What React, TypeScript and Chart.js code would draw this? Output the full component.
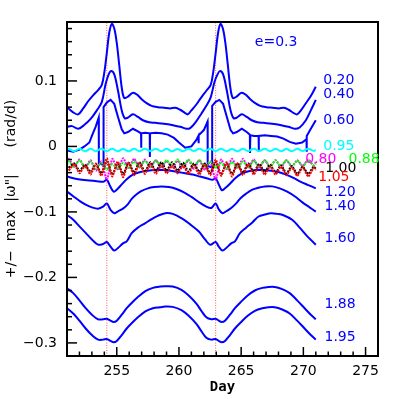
import React, { useEffect, useRef } from "react";
import { Chart, registerables } from "chart.js";

Chart.register(...registerables);

type P = [number, number];

// axis ranges and tick labels
const xMin = 251;
const xMax = 276;
const yMin = -0.32;
const yMax = 0.19;
const xTickValues = [255, 260, 265, 270, 275];
const yTickValues = [-0.3, -0.2, -0.1, 0, 0.1];
const xTitle = "Day";
const yTitle = "+/\u2212  max  |\u03c9\"|      (rad/d)";
const eccText = "e=0.3";

// dotted red vertical markers (days)
const markerDays = [254.2, 262.95];

// ----- blue curves: [day, value] -----
const c020: P[] = [
  [251.0, 0.060], [251.5, 0.052], [251.9, 0.049], [252.3, 0.058], [252.7, 0.069], [253.1, 0.078],
  [253.5, 0.086], [253.8, 0.094], [254.0, 0.113], [254.2, 0.143], [254.4, 0.174], [254.6, 0.187],
  [254.8, 0.180], [255.0, 0.158], [255.2, 0.124], [255.4, 0.090], [255.6, 0.074], [255.9, 0.076],
  [256.3, 0.082], [256.7, 0.078], [257.0, 0.072], [257.4, 0.066], [257.8, 0.062], [258.3, 0.060],
  [258.8, 0.059], [259.3, 0.058], [259.7, 0.059], [260.1, 0.056], [260.5, 0.051], [260.7, 0.049],
  [261.0, 0.055], [261.4, 0.064], [261.8, 0.075], [262.2, 0.085], [262.55, 0.094], [262.75, 0.113],
  [262.95, 0.143], [263.15, 0.174], [263.33, 0.187], [263.53, 0.180], [263.73, 0.158], [263.93, 0.124],
  [264.13, 0.090], [264.33, 0.074], [264.63, 0.076], [265.03, 0.082], [265.43, 0.078], [265.73, 0.072],
  [266.13, 0.066], [266.53, 0.062], [267.03, 0.060], [267.53, 0.059], [268.03, 0.058], [268.43, 0.059],
  [268.83, 0.056], [269.23, 0.051], [269.5, 0.049], [269.8, 0.055], [270.2, 0.066], [270.6, 0.077],
  [271.0, 0.091],
];

const c040: P[] = [
  [251.0, 0.030], [251.4, 0.031], [251.9, 0.027], [252.4, 0.033], [252.9, 0.042], [253.4, 0.055],
  [253.8, 0.068], [254.1, 0.095], [254.35, 0.110], [254.55, 0.115], [254.8, 0.110], [255.1, 0.085],
  [255.4, 0.055], [255.65, 0.043], [255.9, 0.044], [256.3, 0.049], [256.7, 0.045], [257.1, 0.040],
  [257.6, 0.037], [258.1, 0.036], [258.6, 0.035], [259.1, 0.034], [259.6, 0.032], [260.1, 0.030],
  [260.6, 0.027], [260.9, 0.028], [261.3, 0.036], [261.8, 0.050], [262.2, 0.062], [262.55, 0.075],
  [262.85, 0.098], [263.1, 0.110], [263.3, 0.115], [263.55, 0.110], [263.85, 0.085], [264.15, 0.055],
  [264.4, 0.043], [264.65, 0.044], [265.05, 0.049], [265.45, 0.045], [265.85, 0.040], [266.3, 0.037],
  [266.8, 0.036], [267.3, 0.035], [267.8, 0.034], [268.3, 0.032], [268.8, 0.030], [269.3, 0.027],
  [269.7, 0.029], [270.2, 0.040], [270.6, 0.055], [271.0, 0.071],
];

const c060: P[] = [
  [251.0, -0.006], [251.5, -0.008], [252.0, -0.005], [252.4, 0.000], [252.8, 0.006], [253.0, 0.016],
  [253.3, 0.030], [253.55, 0.044], [253.56, -0.026], [253.93, -0.028], [253.94, 0.060], [254.2, 0.067],
  [254.5, 0.071], [254.8, 0.065], [255.1, 0.045], [255.4, 0.026], [255.6, 0.020], [255.9, 0.022],
  [256.3, 0.027], [256.7, 0.023], [256.95, 0.020], [256.96, -0.002], [256.98, 0.020], [257.3, 0.021],
  [257.65, 0.020], [257.66, -0.016], [257.68, 0.020], [258.1, 0.021], [258.6, 0.020], [259.1, 0.018],
  [259.6, 0.013], [260.0, 0.006], [260.5, -0.002], [261.0, 0.000], [261.4, 0.010], [261.56, 0.016],
  [261.57, 0.005], [261.6, 0.017], [262.0, 0.025], [262.3, 0.038], [262.31, -0.030], [262.66, -0.032],
  [262.67, 0.062], [262.95, 0.068], [263.25, 0.071], [263.55, 0.065], [263.85, 0.045], [264.15, 0.025],
  [264.35, 0.020], [264.65, 0.022], [265.05, 0.027], [265.45, 0.022], [265.7, 0.018], [265.71, -0.010],
  [265.74, 0.017], [266.05, 0.016], [266.4, 0.016], [266.41, -0.008], [266.43, 0.016], [266.9, 0.017],
  [267.4, 0.016], [267.9, 0.015], [268.4, 0.012], [268.9, 0.007], [269.4, 0.004], [269.9, 0.006],
  [270.25, 0.011], [270.26, -0.008], [270.28, 0.016], [270.6, 0.027], [271.0, 0.040],
];

const c120: P[] = [
  [251.0, -0.046], [251.6, -0.049], [252.2, -0.051], [252.8, -0.052], [253.4, -0.053], [253.9, -0.054],
  [254.2, -0.051], [254.45, -0.060], [254.75, -0.069], [255.0, -0.066], [255.4, -0.058], [255.8, -0.050],
  [256.3, -0.043], [256.9, -0.039], [257.5, -0.037], [258.1, -0.036], [258.7, -0.036], [259.3, -0.037],
  [259.9, -0.039], [260.5, -0.041], [261.1, -0.043], [261.7, -0.046], [262.3, -0.049], [262.7, -0.051],
  [262.95, -0.049], [263.2, -0.058], [263.45, -0.067], [263.7, -0.064], [264.1, -0.057], [264.5, -0.049],
  [265.0, -0.042], [265.6, -0.038], [266.2, -0.036], [266.8, -0.036], [267.4, -0.037], [268.0, -0.039],
  [268.6, -0.043], [269.2, -0.048], [269.8, -0.054], [270.4, -0.059], [271.0, -0.064],
];

const c140: P[] = [
  [251.0, -0.069], [251.5, -0.076], [252.0, -0.083], [252.5, -0.089], [253.0, -0.093], [253.5, -0.095],
  [253.9, -0.092], [254.2, -0.087], [254.5, -0.097], [254.8, -0.102], [255.1, -0.099], [255.5, -0.095],
  [255.9, -0.088], [256.2, -0.080], [256.6, -0.073], [257.0, -0.068], [257.5, -0.064], [258.0, -0.062],
  [258.6, -0.061], [259.2, -0.062], [259.8, -0.065], [260.4, -0.070], [261.0, -0.077], [261.6, -0.085],
  [262.2, -0.092], [262.6, -0.094], [262.95, -0.087], [263.2, -0.096], [263.5, -0.102], [263.8, -0.099],
  [264.2, -0.094], [264.6, -0.087], [264.95, -0.079], [265.4, -0.072], [265.9, -0.066], [266.4, -0.063],
  [266.9, -0.061], [267.5, -0.061], [268.1, -0.064], [268.7, -0.069], [269.3, -0.076], [269.9, -0.085],
  [270.5, -0.093], [271.0, -0.0995],
];

const c160: P[] = [
  [251.0, -0.1046], [251.5, -0.112], [252.0, -0.122], [252.5, -0.132], [253.0, -0.142], [253.5, -0.150],
  [253.9, -0.149], [254.2, -0.146], [254.5, -0.153], [254.8, -0.159], [255.1, -0.155], [255.5, -0.148],
  [255.8, -0.145], [256.2, -0.1325], [256.7, -0.124], [257.3, -0.117], [257.8, -0.111], [258.3, -0.106],
  [258.9, -0.102], [259.5, -0.103], [260.2, -0.1096], [260.9, -0.119], [261.6, -0.130], [262.1, -0.142],
  [262.5, -0.150], [262.95, -0.146], [263.2, -0.153], [263.5, -0.159], [263.8, -0.155], [264.2, -0.148],
  [264.5, -0.145], [264.9, -0.1325], [265.4, -0.124], [265.9, -0.116], [266.4, -0.107], [266.9, -0.104],
  [267.4, -0.102], [267.9, -0.103], [268.4, -0.105], [269.1, -0.112], [269.7, -0.124], [270.3, -0.137],
  [271.0, -0.150],
];

const c188: P[] = [
  [251.0, -0.2165], [251.5, -0.224], [252.0, -0.235], [252.5, -0.247], [253.0, -0.257], [253.5, -0.264],
  [253.9, -0.264], [254.2, -0.263], [254.5, -0.266], [254.75, -0.268], [255.0, -0.266], [255.4, -0.257],
  [255.8, -0.247], [256.2, -0.239], [256.7, -0.230], [257.3, -0.221], [257.9, -0.216], [258.5, -0.214],
  [258.9, -0.2135], [259.5, -0.214], [260.2, -0.219], [260.8, -0.228], [261.4, -0.240], [261.8, -0.251],
  [262.2, -0.261], [262.6, -0.264], [262.95, -0.263], [263.2, -0.266], [263.45, -0.268], [263.7, -0.266],
  [264.1, -0.257], [264.5, -0.247], [264.9, -0.239], [265.5, -0.228], [266.1, -0.220], [266.7, -0.216],
  [267.2, -0.2145], [267.7, -0.2145], [268.3, -0.218], [268.9, -0.224], [269.5, -0.235], [270.1, -0.247],
  [270.6, -0.257], [271.0, -0.264],
];

const c195: P[] = [
  [251.0, -0.247], [251.5, -0.255], [252.0, -0.266], [252.5, -0.278], [253.0, -0.288], [253.5, -0.295],
  [253.9, -0.295], [254.2, -0.294], [254.5, -0.297], [254.75, -0.299], [255.0, -0.297], [255.4, -0.288],
  [255.8, -0.278], [256.2, -0.270], [256.7, -0.261], [257.3, -0.252], [257.9, -0.247], [258.5, -0.2455],
  [258.9, -0.2445], [259.5, -0.245], [260.2, -0.250], [260.8, -0.259], [261.4, -0.271], [261.8, -0.282],
  [262.2, -0.292], [262.6, -0.295], [262.95, -0.294], [263.2, -0.297], [263.45, -0.299], [263.7, -0.297],
  [264.1, -0.288], [264.5, -0.278], [264.9, -0.270], [265.5, -0.259], [266.1, -0.251], [266.7, -0.247],
  [267.2, -0.2455], [267.7, -0.2455], [268.3, -0.249], [268.9, -0.255], [269.5, -0.266], [270.1, -0.278],
  [270.6, -0.288], [271.0, -0.295],
];

// ----- oscillating curves share one day grid -----
const oscDays = [
  251.0, 251.14, 251.575, 252.01, 252.45, 252.89, 253.325, 253.76, 254.2, 254.64, 255.075, 255.51,
  255.95, 256.39, 256.825, 257.26, 257.7, 258.14, 258.575, 259.01, 259.45, 259.89, 260.325, 260.76,
  261.2, 261.64, 262.075, 262.51, 262.95, 263.39, 263.825, 264.26, 264.7, 265.14, 265.575, 266.01,
  266.45, 266.89, 267.325, 267.76, 268.2, 268.64, 269.075, 269.51, 269.95, 270.39, 270.825, 271.0,
];

const cyan095 = [
  -0.0055, -0.0040, -0.0072, -0.0036, -0.0074, -0.0037, -0.0072, -0.0034, -0.0070, -0.0036, -0.0073, -0.0038,
  -0.0075, -0.0037, -0.0072, -0.0035, -0.0071, -0.0036, -0.0072, -0.0037, -0.0074, -0.0038, -0.0074, -0.0036,
  -0.0071, -0.0034, -0.0069, -0.0034, -0.0070, -0.0036, -0.0073, -0.0038, -0.0075, -0.0037, -0.0072, -0.0035,
  -0.0071, -0.0036, -0.0072, -0.0037, -0.0073, -0.0038, -0.0073, -0.0036, -0.0071, -0.0035, -0.0068, -0.0055,
];

const mag080 = [
  -0.024, -0.019, -0.031, -0.020, -0.033, -0.021, -0.037, -0.023, -0.051, -0.019, -0.035, -0.018,
  -0.033, -0.019, -0.032, -0.020, -0.032, -0.021, -0.033, -0.022, -0.033, -0.022, -0.033, -0.021,
  -0.034, -0.021, -0.036, -0.023, -0.051, -0.020, -0.035, -0.019, -0.033, -0.019, -0.032, -0.020,
  -0.032, -0.021, -0.032, -0.021, -0.032, -0.021, -0.031, -0.021, -0.030, -0.020, -0.029, -0.024,
];

const grn088 = [
  -0.028, -0.023, -0.031, -0.021, -0.032, -0.023, -0.034, -0.025, -0.035, -0.027, -0.034, -0.025,
  -0.033, -0.023, -0.032, -0.022, -0.031, -0.021, -0.031, -0.021, -0.030, -0.020, -0.030, -0.020,
  -0.030, -0.021, -0.031, -0.023, -0.033, -0.025, -0.034, -0.024, -0.033, -0.023, -0.032, -0.022,
  -0.031, -0.021, -0.031, -0.021, -0.030, -0.021, -0.030, -0.022, -0.030, -0.022, -0.029, -0.026,
];

const blk100 = [
  -0.030, -0.033, -0.026, -0.037, -0.028, -0.039, -0.027, -0.041, -0.023, -0.043, -0.026, -0.042,
  -0.025, -0.040, -0.024, -0.039, -0.024, -0.038, -0.024, -0.037, -0.024, -0.037, -0.025, -0.038,
  -0.026, -0.039, -0.026, -0.041, -0.024, -0.043, -0.026, -0.042, -0.026, -0.040, -0.026, -0.039,
  -0.027, -0.039, -0.028, -0.040, -0.029, -0.041, -0.030, -0.042, -0.031, -0.042, -0.031, -0.034,
];

const red105 = [
  -0.034, -0.037, -0.027, -0.041, -0.029, -0.043, -0.026, -0.045, -0.018, -0.046, -0.023, -0.047,
  -0.025, -0.044, -0.026, -0.042, -0.027, -0.042, -0.028, -0.041, -0.029, -0.041, -0.029, -0.042,
  -0.029, -0.043, -0.027, -0.044, -0.020, -0.045, -0.024, -0.046, -0.026, -0.044, -0.027, -0.043,
  -0.029, -0.043, -0.030, -0.043, -0.031, -0.044, -0.032, -0.045, -0.032, -0.046, -0.033, -0.036,
];

// ----- curve labels -----
const labelTexts = ["0.20", "0.40", "0.60", "0.95", "0.80", "0.88", "1.00", "1.05", "1.20", "1.40", "1.60", "1.88", "1.95", eccText];
const labelColors = ["#0000ff", "#0000ff", "#0000ff", "#00ffff", "#ff00ff", "#00ff00", "#000000", "#ff0000", "#0000ff", "#0000ff", "#0000ff", "#0000ff", "#0000ff", "#0000ff"];
const labelDays = [271.6, 271.6, 271.6, 271.6, 270.15, 273.63, 271.75, 271.2, 271.7, 271.7, 271.7, 271.7, 271.7, 266.1];
const labelVals = [0.1005, 0.080, 0.0405, 0.0008, -0.019, -0.019, -0.0328, -0.0466, -0.070, -0.091, -0.140, -0.2405, -0.2908, 0.1595];

const BLUE = "#0000ff";
const FONT = "'DejaVu Sans', sans-serif";

const toXY = (pts: P[]) => pts.map(([x, y]) => ({ x, y }));
const zipXY = (xs: number[], ys: number[]) => xs.map((x, i) => ({ x, y: ys[i] }));

const decorPlugin = {
  id: "decor",
  afterDraw(chart: any) {
    const { ctx, chartArea: a, scales } = chart;
    const xs = scales.x;
    const ys = scales.y;
    ctx.save();
    ctx.strokeStyle = "#000";
    ctx.lineWidth = 1.5;
    for (let k = -16; k <= 9; k++) {
      const v = k * 0.02;
      if (v < yMin || v > yMax) continue;
      const py = ys.getPixelForValue(v);
      const major = k % 5 === 0;
      ctx.beginPath();
      ctx.moveTo(a.left, py);
      ctx.lineTo(a.left + (major ? 10 : 5), py);
      ctx.stroke();
    }
    for (let d = 252; d <= 275; d++) {
      const px = xs.getPixelForValue(d);
      const major = d % 5 === 0;
      ctx.beginPath();
      ctx.moveTo(px, a.bottom);
      ctx.lineTo(px, a.bottom - (major ? 9 : 4.5));
      ctx.stroke();
    }
    ctx.lineWidth = 2;
    ctx.strokeRect(a.left, a.top, a.right - a.left, a.bottom - a.top);
    ctx.font = `14px ${FONT}`;
    ctx.textBaseline = "middle";
    ctx.textAlign = "left";
    labelTexts.forEach((t, i) => {
      ctx.fillStyle = labelColors[i];
      ctx.fillText(t, xs.getPixelForValue(labelDays[i]), ys.getPixelForValue(labelVals[i]));
    });
    ctx.restore();
  },
};

export default function App() {
  const ref = useRef<HTMLCanvasElement | null>(null);

  useEffect(() => {
    if (!ref.current) return;
    const blue = (pts: P[], mono = false) => ({
      data: toXY(pts),
      borderColor: BLUE,
      borderWidth: 2,
      pointRadius: 0,
      tension: mono ? 0 : 0.35,
      order: 10,
    });
    const osc = (vals: number[], color: string, order: number) => ({
      data: zipXY(oscDays, vals),
      borderColor: color,
      borderWidth: 2,
      borderDash: [2, 1],
      pointRadius: 0,
      tension: 0.2,
      order,
    });
    const markers = markerDays.map((d) => ({
      data: [{ x: d, y: yMin }, { x: d, y: yMax }],
      borderColor: "#ff5a5a",
      borderWidth: 1,
      borderDash: [1, 1.5],
      pointRadius: 0,
      tension: 0,
      order: 20,
    }));
    const datasets: any[] = [
      ...markers,
      blue(c020), blue(c040), blue(c060, true), blue(c120), blue(c140), blue(c160), blue(c188), blue(c195),
      osc(mag080, "#ff00ff", 6), osc(grn088, "#00ff00", 5), osc(blk100, "#000000", 4), osc(red105, "#ff0000", 3),
      {
        data: zipXY(oscDays, cyan095),
        borderColor: "#00ffff",
        borderWidth: 2,
        pointRadius: 0,
        tension: 0.35,
        order: 1,
      },
    ];

    const chart = new Chart(ref.current, {
      type: "line",
      data: { datasets },
      plugins: [decorPlugin],
      options: {
        animation: false,
        responsive: false,
        devicePixelRatio: 1,
        layout: { padding: { top: 22, right: 21, left: 0, bottom: 0 } },
        plugins: { legend: { display: false }, tooltip: { enabled: false } },
        scales: {
          x: {
            type: "linear",
            min: xMin,
            max: xMax,
            grid: { display: false, drawTicks: false },
            border: { display: false },
            afterBuildTicks: (s: any) => {
              s.ticks = xTickValues.map((v) => ({ value: v }));
            },
            ticks: {
              color: "#000",
              padding: 7,
              maxRotation: 0,
              autoSkip: false,
              font: { family: FONT, size: 14 },
              callback: (v: any) => String(Math.round(Number(v))),
            },
            title: {
              display: true,
              text: xTitle,
              color: "#000",
              font: { family: "'DejaVu Sans Mono', monospace", size: 14, weight: "bold" },
              padding: { top: 0, bottom: 3 },
            },
            afterFit: (s: any) => {
              s.height = 43;
            },
          },
          y: {
            type: "linear",
            min: yMin,
            max: yMax,
            grid: { display: false, drawTicks: false },
            border: { display: false },
            afterBuildTicks: (s: any) => {
              s.ticks = yTickValues.map((v) => ({ value: v }));
            },
            ticks: {
              color: "#000",
              padding: 10,
              autoSkip: false,
              font: { family: FONT, size: 14 },
              callback: (v: any) => {
                const r = Math.round(Number(v) * 10) / 10;
                if (r === 0) return "0";
                const s = Math.abs(r).toFixed(1);
                return r < 0 ? "\u2212" + s : s;
              },
            },
            title: {
              display: true,
              text: yTitle,
              color: "#000",
              font: { family: FONT, size: 14 },
              padding: { top: 3, bottom: 0 },
            },
            afterFit: (s: any) => {
              s.width = 67;
            },
          },
        },
      } as any,
    });
    return () => chart.destroy();
  }, []);

  return (
    <div style={{ position: "fixed", left: 0, top: 0, width: 399, height: 399, background: "#fff" }}>
      <canvas ref={ref} width={399} height={399} style={{ display: "block" }} />
    </div>
  );
}
